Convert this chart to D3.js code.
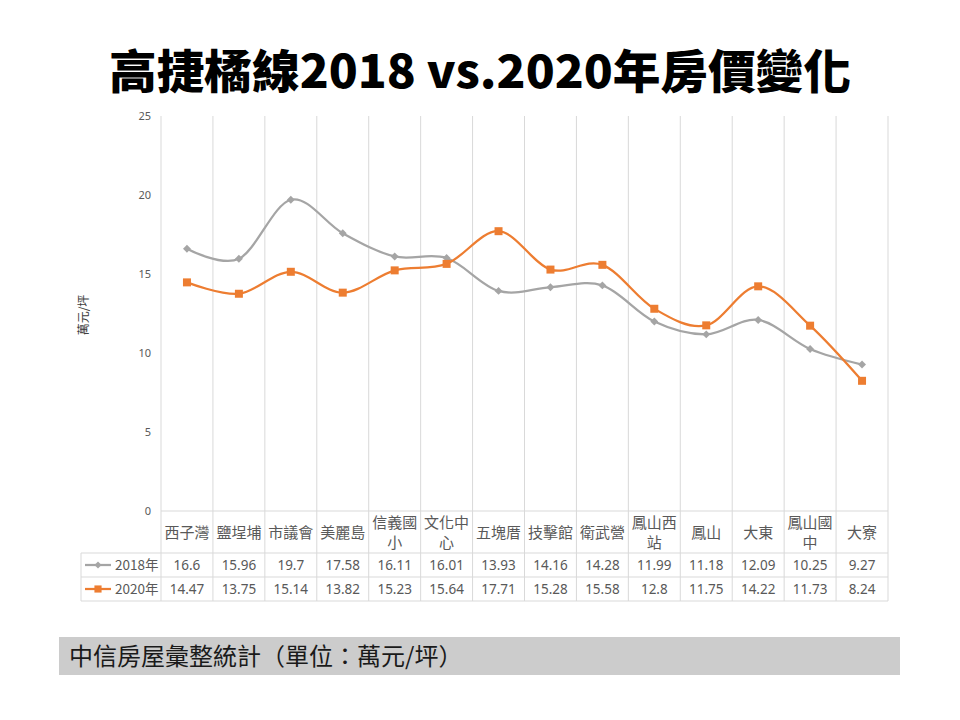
<!DOCTYPE html>
<html>
<head>
<meta charset="utf-8">
<script src="https://cdn.jsdelivr.net/npm/d3@7"></script>
<style>
  body { margin: 0; background: #fff; }
  svg { display: block; font-family: "Noto Sans CJK TC", "Noto Sans", sans-serif; }
</style>
</head>
<body>
<svg width="960" height="720"></svg>
<script>
// data
var stations = ["西子灣", "鹽埕埔", "市議會", "美麗島", "信義國小", "文化中心", "五塊厝", "技擊館", "衛武營", "鳳山西站", "鳳山", "大東", "鳳山國中", "大寮"];
// how the long names wrap in the table
var stationLines = [["西子灣"], ["鹽埕埔"], ["市議會"], ["美麗島"], ["信義國", "小"], ["文化中", "心"], ["五塊厝"], ["技擊館"], ["衛武營"], ["鳳山西", "站"], ["鳳山"], ["大東"], ["鳳山國", "中"], ["大寮"]];
var values2018 = [16.6, 15.96, 19.7, 17.58, 16.11, 16.01, 13.93, 14.16, 14.28, 11.99, 11.18, 12.09, 10.25, 9.27];
var values2020 = [14.47, 13.75, 15.14, 13.82, 15.23, 15.64, 17.71, 15.28, 15.58, 12.8, 11.75, 14.22, 11.73, 8.24];
var seriesNames = ["2018年", "2020年"];
var yTicks = [0, 5, 10, 15, 20, 25];

var svg = d3.select("svg");
var gridColor = "#d9d9d9";
var textColor = "#595959";

// title
svg.append("text")
    .attr("x", 480)
    .attr("y", 88)
    .attr("text-anchor", "middle")
    .attr("font-size", 46)
    .attr("font-weight", 900)
    .attr("fill", "#000")
    .attr("textLength", 742)
    .attr("lengthAdjust", "spacingAndGlyphs")
    .text("高捷橘線2018 vs.2020年房價變化");

// scales
var x = d3.scaleBand()
    .domain(stations)
    .range([161, 888]);
var y = d3.scaleLinear()
    .domain([0, 25])
    .range([511, 116]);

var rowTop = 553, rowH = 24;
var tableBottom = rowTop + rowH * 2;

// vertical grid lines run from the top of the plot through the table
var bounds = stations.map(function(d) { return x(d); }).concat([x.range()[1]]);
svg.selectAll("line.vgrid").data(bounds).enter()
    .append("line")
    .attr("class", "vgrid")
    .attr("x1", function(d) { return d; })
    .attr("x2", function(d) { return d; })
    .attr("y1", y(25))
    .attr("y2", tableBottom)
    .attr("stroke", gridColor)
    .attr("stroke-width", 1);

// left border of the legend column
svg.append("line")
    .attr("x1", 81).attr("x2", 81)
    .attr("y1", rowTop).attr("y2", tableBottom)
    .attr("stroke", gridColor);

// horizontal lines: axis + table rows
svg.append("line")
    .attr("x1", x.range()[0]).attr("x2", x.range()[1])
    .attr("y1", y(0)).attr("y2", y(0))
    .attr("stroke", gridColor);
[rowTop, rowTop + rowH, tableBottom].forEach(function(yy) {
    svg.append("line")
        .attr("x1", 81).attr("x2", x.range()[1])
        .attr("y1", yy).attr("y2", yy)
        .attr("stroke", gridColor);
});

// y axis labels
var yAxis = svg.append("g")
    .attr("transform", "translate(151,0)")
    .call(d3.axisLeft(y).tickValues(yTicks).tickSize(0).tickPadding(0));
yAxis.select(".domain").remove();
yAxis.selectAll("text")
    .attr("fill", textColor)
    .attr("font-size", 11)
    .attr("font-family", "'Noto Sans', sans-serif");

svg.append("text")
    .attr("transform", "translate(88,315) rotate(-90)")
    .attr("text-anchor", "middle")
    .attr("font-size", 12)
    .attr("fill", "#404040")
    .text("萬元/坪");

// category row of the table
var cat = svg.selectAll("text.cat").data(stationLines).enter()
    .append("text")
    .attr("class", "cat")
    .attr("text-anchor", "middle")
    .attr("font-size", 15)
    .attr("fill", textColor)
    .attr("x", function(d, i) { return x(stations[i]) + x.bandwidth() / 2; })
    .attr("y", function(d) { return d.length > 1 ? 528 : 538; });
cat.selectAll("tspan").data(function(d) { return d; }).enter()
    .append("tspan")
    .attr("x", function() { return d3.select(this.parentNode).attr("x"); })
    .attr("dy", function(d, i) { return i === 0 ? 0 : 20; })
    .text(function(d) { return d; });

// lines
var series = [
    { name: seriesNames[0], values: values2018, color: "#a5a5a5", shape: d3.symbolDiamond2, size: 40 },
    { name: seriesNames[1], values: values2020, color: "#ed7d31", shape: d3.symbolSquare, size: 64 }
];

var line = d3.line()
    .x(function(d, i) { return x(stations[i]) + x.bandwidth() / 2; })
    .y(function(d) { return y(d); })
    .curve(d3.curveCardinal.tension(0));

series.forEach(function(s, si) {
    svg.append("path")
        .attr("d", line(s.values))
        .attr("fill", "none")
        .attr("stroke", s.color)
        .attr("stroke-width", 2.25);

    svg.selectAll("path.mark" + si).data(s.values).enter()
        .append("path")
        .attr("class", "mark" + si)
        .attr("d", d3.symbol().type(s.shape).size(s.size))
        .attr("transform", function(d, i) {
            return "translate(" + (x(stations[i]) + x.bandwidth() / 2) + "," + y(d) + ")";
        })
        .attr("fill", s.color);

    // table row
    var cy = rowTop + rowH * si + rowH / 2;
    svg.selectAll("text.val" + si).data(s.values).enter()
        .append("text")
        .attr("class", "val" + si)
        .attr("text-anchor", "middle")
        .attr("font-size", 13.5)
        .attr("font-family", "'Noto Sans', sans-serif")
        .attr("fill", textColor)
        .attr("x", function(d, i) { return x(stations[i]) + x.bandwidth() / 2; })
        .attr("y", cy + 5)
        .text(function(d) { return d; });

    // legend key
    svg.append("line")
        .attr("x1", 85).attr("x2", 111)
        .attr("y1", cy).attr("y2", cy)
        .attr("stroke", s.color)
        .attr("stroke-width", 2.25);
    svg.append("path")
        .attr("d", d3.symbol().type(s.shape).size(s.size * 0.8))
        .attr("transform", "translate(98," + cy + ")")
        .attr("fill", s.color);
    svg.append("text")
        .attr("x", 115)
        .attr("y", cy + 5)
        .attr("font-size", 13.5)
        .attr("fill", textColor)
        .text(s.name);
});

// source box
svg.append("rect")
    .attr("x", 59).attr("y", 637)
    .attr("width", 841).attr("height", 38)
    .attr("fill", "#cccccc");
svg.append("text")
    .attr("x", 69)
    .attr("y", 665)
    .attr("font-size", 24)
    .attr("fill", "#1a1a1a")
    .text("中信房屋彙整統計（單位：萬元/坪）");
</script>
</body>
</html>
